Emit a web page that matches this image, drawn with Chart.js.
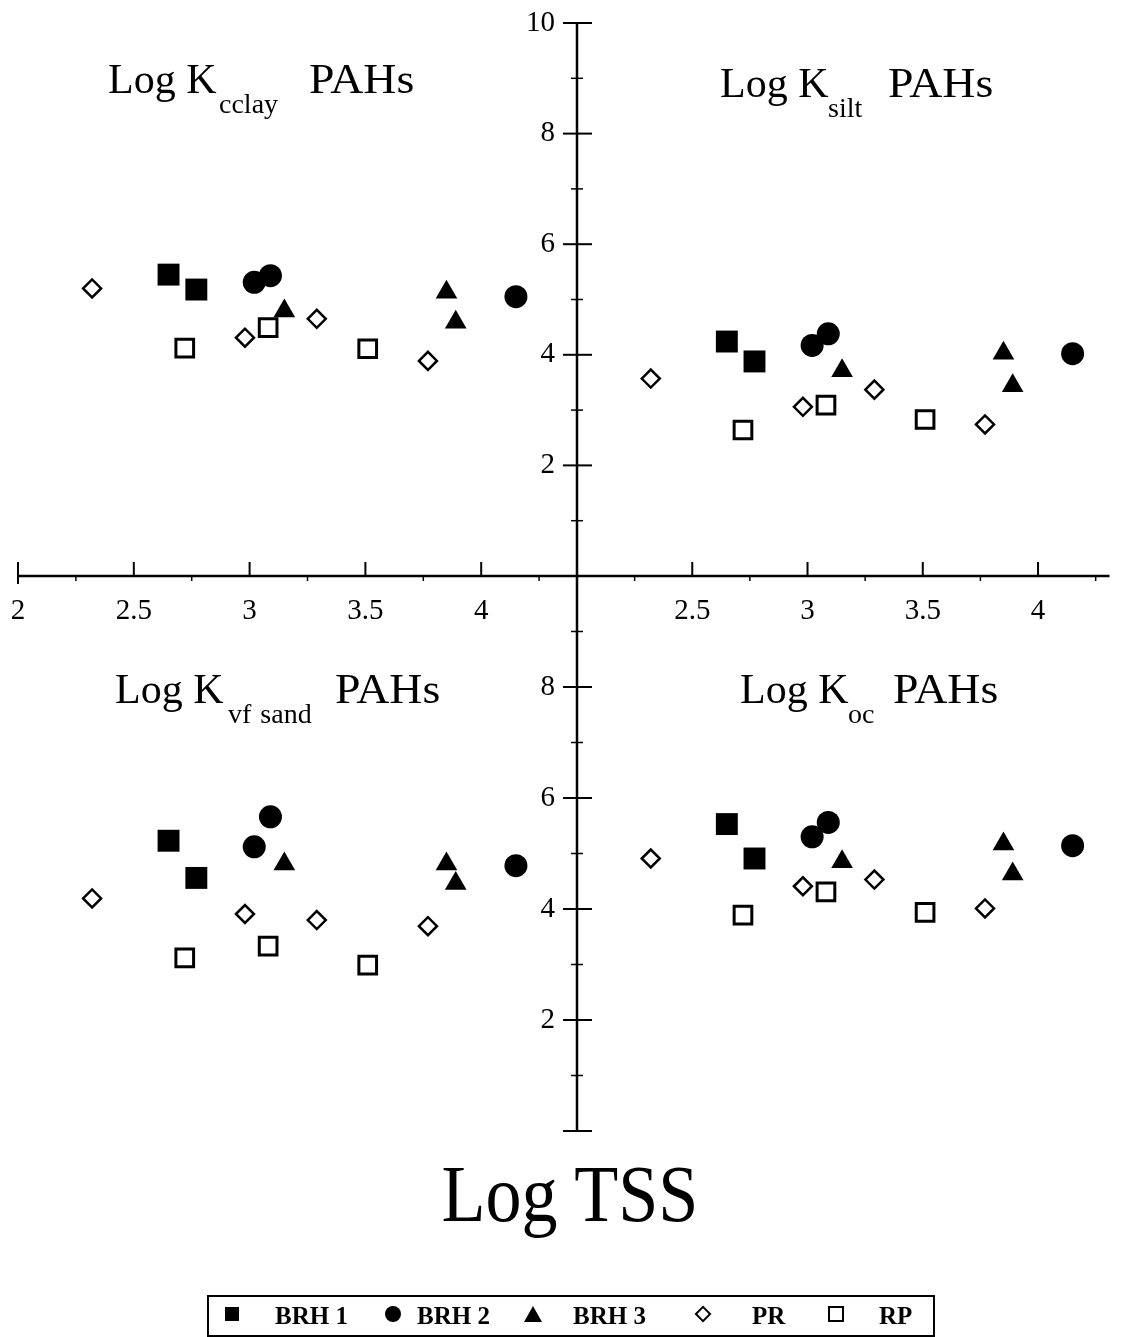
<!DOCTYPE html>
<html>
<head>
<meta charset="utf-8">
<script src="https://cdn.jsdelivr.net/npm/chart.js@4.4.1/dist/chart.umd.min.js"></script>
<style>
  body { margin: 0; background: #fff; }
  #wrap { position: relative; width: 1125px; height: 1337px; font-family: "Liberation Serif", "Times New Roman", serif; color: #000; overflow: hidden; }
  #wrap canvas { position: absolute; left: 0; top: 0; }
  .t { position: absolute; white-space: nowrap; line-height: 1; }
  .main { font-size: 42px; }
  .pahs { font-size: 42px; transform: scaleX(1.09); transform-origin: left center; }
  .sub { font-size: 28px; }
  #xtitle { position: absolute; left: 0; width: 1140px; text-align: center; font-size: 80px; line-height: 1; top: 1154px; transform: scaleX(0.9); }
  #legendBox { position: absolute; left: 207px; top: 1295px; width: 724px; height: 38px; border: 2px solid #000; }
  .lg { position: absolute; font-size: 25px; font-weight: bold; line-height: 1; top: 1303px; }
  .sym { position: absolute; box-sizing: border-box; }
</style>
</head>
<body>
<div id="wrap">
  <canvas id="tl" width="1125" height="1337"></canvas>
  <canvas id="tr" width="1125" height="1337"></canvas>
  <canvas id="bl" width="1125" height="1337"></canvas>
  <canvas id="br" width="1125" height="1337"></canvas>

  <!-- panel titles -->
  <span class="t main" style="left:108px; top:58px;">Log K</span>
  <span class="t sub" style="left:219px; top:90px;">cclay</span>
  <span class="t pahs" style="left:309px; top:58px;">PAHs</span>

  <span class="t main" style="left:720px; top:62px;">Log K</span>
  <span class="t sub" style="left:828px; top:94px;">silt</span>
  <span class="t pahs" style="left:888px; top:62px;">PAHs</span>

  <span class="t main" style="left:115px; top:668px;">Log K</span>
  <span class="t sub" style="left:228px; top:700px; word-spacing:2px;">vf sand</span>
  <span class="t pahs" style="left:335px; top:668px;">PAHs</span>

  <span class="t main" style="left:740px; top:668px;">Log K</span>
  <span class="t sub" style="left:848px; top:700px;">oc</span>
  <span class="t pahs" style="left:893px; top:668px;">PAHs</span>

  <div id="xtitle">Log TSS</div>

  <!-- legend -->
  <div id="legendBox"></div>
  <div class="sym" style="left:225px; top:1307px; width:14px; height:14px; background:#000;"></div>
  <span class="lg" style="left:275px;">BRH 1</span>
  <div class="sym" style="left:385px; top:1306px; width:16px; height:16px; background:#000; border-radius:50%;"></div>
  <span class="lg" style="left:417px;">BRH 2</span>
  <div class="sym" style="left:524px; top:1306px; width:0; height:0; border-left:9px solid transparent; border-right:9px solid transparent; border-bottom:16px solid #000;"></div>
  <span class="lg" style="left:573px;">BRH 3</span>
  <div class="sym" style="left:697px; top:1308px; width:12px; height:12px; border:2px solid #000; transform:rotate(45deg);"></div>
  <span class="lg" style="left:752px;">PR</span>
  <div class="sym" style="left:828px; top:1306px; width:16px; height:16px; border:2.5px solid #000;"></div>
  <span class="lg" style="left:879px;">RP</span>
</div>

<script>
// Log TSS of each sample group (same in all four panels)
const brh1X = [2.65, 2.77];
const brh2X = [3.02, 3.09, 4.15];
const brh3X = [3.15, 3.85, 3.89];
const prX = [2.32, 2.98, 3.29, 3.77];
const rpX = [2.72, 3.08, 3.51];

// Log K cclay
const clayBrh1 = [5.45, 5.18];
const clayBrh2 = [5.31, 5.43, 5.05];
const clayBrh3 = [4.79, 5.13, 4.59];
const clayPr = [5.20, 4.31, 4.65, 3.89];
const clayRp = [4.12, 4.49, 4.11];

// Log K silt
const siltBrh1 = [4.24, 3.88];
const siltBrh2 = [4.17, 4.38, 4.02];
const siltBrh3 = [3.71, 4.03, 3.44];
const siltPr = [3.57, 3.06, 3.37, 2.74];
const siltRp = [2.64, 3.09, 2.83];

// Log K vf sand
const sandBrh1 = [5.23, 4.56];
const sandBrh2 = [5.12, 5.66, 4.78];
const sandBrh3 = [4.81, 4.81, 4.46];
const sandPr = [4.19, 3.91, 3.80, 3.69];
const sandRp = [3.12, 3.33, 2.99];

// Log K oc
const ocBrh1 = [5.53, 4.91];
const ocBrh2 = [5.30, 5.56, 5.14];
const ocBrh3 = [4.85, 5.17, 4.63];
const ocPr = [4.91, 4.41, 4.53, 4.01];
const ocRp = [3.89, 4.31, 3.94];

// axis ticks
const xTicks = [2, 2.5, 3, 3.5, 4];
const xMinorTicks = [2.25, 2.75, 3.25, 3.75, 4.25];
const yTicks = [2, 4, 6, 8, 10];
const yMinorTicks = [1, 3, 5, 7, 9];

const W = 1125, H = 1337;
const PX_PER_X = 231.6;   // pixels per Log TSS unit

function pts(xs, ys) {
    return xs.map((x, i) => ({ x: x, y: ys[i] }));
}

// draws the cross-shaped axes in the style of the original figure
const quadAxes = {
    id: 'quadAxes',
    afterDraw(chart, args, opts) {
        const ctx = chart.ctx;
        const xs = chart.scales.x, ys = chart.scales.y;
        ctx.save();
        ctx.strokeStyle = '#000';
        ctx.fillStyle = '#000';
        ctx.font = '29px "Liberation Serif", serif';
        function seg(x1, y1, x2, y2, w) {
            ctx.lineWidth = w;
            ctx.beginPath();
            ctx.moveTo(x1, y1);
            ctx.lineTo(x2, y2);
            ctx.stroke();
        }
        if (opts.xAxis) {
            const y0 = ys.getPixelForValue(0);
            seg(xs.left, y0, xs.right, y0, 2.5);
            xTicks.forEach(v => {
                const x = xs.getPixelForValue(v);
                if (v === 2 && !opts.startCap) return;
                seg(x, y0 - 14, x, v === 2 ? y0 + 8 : y0, 2);
            });
            xMinorTicks.forEach(v => {
                const x = xs.getPixelForValue(v);
                seg(x, y0, x, y0 + 5, 1.5);
            });
            ctx.textAlign = 'center';
            ctx.textBaseline = 'middle';
            opts.xLabels.forEach(v => {
                ctx.fillText(String(v), xs.getPixelForValue(v), y0 + 35);
            });
        }
        if (opts.yAxis) {
            const x0 = xs.getPixelForValue(2);
            seg(x0, ys.getPixelForValue(0), x0, ys.getPixelForValue(10), 2.5);
            yTicks.concat([0]).forEach(v => {
                if (v === opts.skipY) return;
                const y = ys.getPixelForValue(v);
                seg(x0 - 14, y, x0 + 15, y, 2);
            });
            yMinorTicks.forEach(v => {
                const y = ys.getPixelForValue(v);
                seg(x0 - 6, y, x0 + 6, y, 1.5);
            });
            ctx.textAlign = 'right';
            ctx.textBaseline = 'middle';
            opts.yLabels.forEach(v => {
                ctx.fillText(String(v), x0 - 22, ys.getPixelForValue(v));
            });
        }
        ctx.restore();
    }
};

function makePanel(id, area, values, axes) {
    const styles = [
        { pointStyle: 'rect', pointRadius: 15.5, pointBackgroundColor: '#000', pointBorderWidth: 0 },
        { pointStyle: 'circle', pointRadius: 11.5, pointBackgroundColor: '#000', pointBorderWidth: 0 },
        { pointStyle: 'triangle', pointRadius: 12.5, pointBackgroundColor: '#000', pointBorderWidth: 0 },
        { pointStyle: 'rectRot', pointRadius: 9, pointBackgroundColor: '#fff', pointBorderWidth: 2.5 },
        { pointStyle: 'rect', pointRadius: 12.5, pointBackgroundColor: '#fff', pointBorderWidth: 3 }
    ];
    const xsets = [brh1X, brh2X, brh3X, prX, rpX];
    const labels = ['BRH 1', 'BRH 2', 'BRH 3', 'PR', 'RP'];
    const datasets = values.map((ys, i) => Object.assign({
        label: labels[i],
        data: pts(xsets[i], ys),
        pointBorderColor: '#000',
        pointHoverRadius: styles[i].pointRadius,
        clip: false
    }, styles[i]));

    new Chart(document.getElementById(id), {
        type: 'scatter',
        data: { datasets: datasets },
        options: {
            responsive: false,
            animation: false,
            events: [],
            layout: { padding: { left: area.left, right: W - area.right, top: area.top, bottom: H - area.bottom } },
            scales: {
                x: { type: 'linear', min: 2, max: 2 + (area.right - area.left) / PX_PER_X, display: false },
                y: { type: 'linear', min: 0, max: 10, display: false }
            },
            plugins: {
                legend: { display: false },
                tooltip: { enabled: false },
                quadAxes: axes
            }
        },
        plugins: [quadAxes]
    });
}

makePanel('tl', { left: 18, right: 577, top: 23, bottom: 576 },
    [clayBrh1, clayBrh2, clayBrh3, clayPr, clayRp],
    { xAxis: true, startCap: true, xLabels: [2, 2.5, 3, 3.5, 4] });

makePanel('tr', { left: 577, right: 1112, top: 23, bottom: 576 },
    [siltBrh1, siltBrh2, siltBrh3, siltPr, siltRp],
    { xAxis: true, startCap: false, xLabels: [2.5, 3, 3.5, 4], yAxis: true, yLabels: [2, 4, 6, 8, 10], skipY: 0 });

makePanel('bl', { left: 18, right: 577, top: 576, bottom: 1131 },
    [sandBrh1, sandBrh2, sandBrh3, sandPr, sandRp], {});

makePanel('br', { left: 577, right: 1112, top: 576, bottom: 1131 },
    [ocBrh1, ocBrh2, ocBrh3, ocPr, ocRp],
    { yAxis: true, yLabels: [2, 4, 6, 8], skipY: 10 });
</script>
</body>
</html>
